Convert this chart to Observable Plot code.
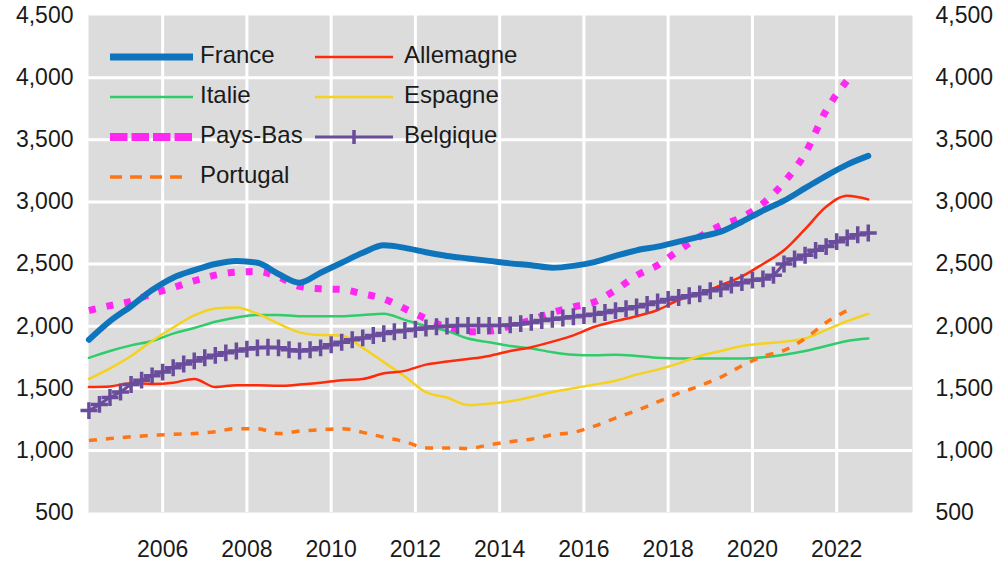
<!DOCTYPE html>
<html><head><meta charset="utf-8">
<script src="https://cdn.jsdelivr.net/npm/d3@7"></script>
<script src="https://cdn.jsdelivr.net/npm/@observablehq/plot@0.6"></script>
<style>
html,body{margin:0;padding:0;background:#fff;}
#wrap{position:relative;width:1000px;height:563px;}
</style></head><body><div id="wrap"></div>
<script>
// ---------- data ----------
const countries = ["France","Allemagne","Italie","Espagne","Pays-Bas","Belgique","Portugal"];
const yTicks = [500,1000,1500,2000,2500,3000,3500,4000,4500];
const xTicks = [2006,2008,2010,2012,2014,2016,2018,2020,2022];

const yearsH = [2004.25,2004.75,2005.25,2005.75,2006.25,2006.75,2007.25,2007.75,2008.25,2008.75,
  2009.25,2009.75,2010.25,2010.75,2011.25,2011.75,2012.25,2012.75,2013.25,2013.75,
  2014.25,2014.75,2015.25,2015.75,2016.25,2016.75,2017.25,2017.75,2018.25,2018.75,
  2019.25,2019.75,2020.25,2020.75,2021.25,2021.75,2022.25,2022.75];

const france = [1890,2040,2160,2290,2390,2450,2500,2525,2510,2420,2350,2430,2510,2590,2650,2630,2595,2565,2545,2525,
  2505,2490,2470,2485,2515,2565,2610,2640,2680,2720,2760,2840,2930,3010,3110,3210,3300,3370];
const allemagne = [1510,1515,1540,1535,1545,1575,1510,1525,1525,1520,1530,1545,1565,1575,1620,1640,1690,1715,1735,1760,
  1800,1830,1875,1925,1995,2040,2080,2130,2210,2260,2330,2400,2500,2610,2780,2960,3050,3020];
const italie = [1745,1800,1845,1880,1940,1985,2035,2070,2090,2090,2080,2080,2080,2090,2100,2050,2000,1960,1900,1870,
  1840,1820,1790,1770,1765,1770,1760,1745,1740,1740,1740,1740,1750,1770,1800,1840,1880,1900];
const espagne = [1575,1660,1760,1880,1989,2086,2142,2150,2100,2020,1950,1928,1925,1825,1710,1595,1468,1425,1365,1375,
  1395,1430,1470,1500,1530,1560,1610,1650,1700,1760,1800,1840,1860,1875,1900,1970,2040,2100];
const paysBas = [2126,2165,2200,2260,2310,2365,2410,2435,2440,2395,2320,2300,2295,2260,2220,2140,2060,1990,1955,1960,
  2000,2050,2110,2155,2195,2290,2407,2490,2610,2720,2810,2875,2987,3157,3389,3736,3977,null];
const portugal = [1080,1095,1110,1120,1130,1135,1150,1175,1175,1135,1155,1165,1175,1145,1105,1070,1020,1020,1015,1045,
  1070,1090,1125,1145,1195,1260,1320,1390,1460,1520,1590,1680,1756,1804,1900,2029,2126,null];

const yearsQ = [2004.25,2004.5,2004.75,2005,2005.25,2005.5,2005.75,2006,2006.25,2006.5,2006.75,2007,2007.25,2007.5,2007.75,
  2008,2008.25,2008.5,2008.75,2009,2009.25,2009.5,2009.75,2010,2010.25,2010.5,2010.75,2011,2011.25,2011.5,2011.75,
  2012,2012.25,2012.5,2012.75,2013,2013.25,2013.5,2013.75,2014,2014.25,2014.5,2014.75,2015,2015.25,2015.5,2015.75,
  2016,2016.25,2016.5,2016.75,2017,2017.25,2017.5,2017.75,2018,2018.25,2018.5,2018.75,2019,2019.25,2019.5,2019.75,
  2020,2020.25,2020.5,2020.75,2021,2021.25,2021.5,2021.75,2022,2022.25,2022.5,2022.75];
const belgique = [1320,1370,1425,1470,1530,1565,1600,1630,1665,1695,1720,1745,1765,1785,1800,1815,1825,1830,1825,1810,
  1800,1810,1825,1850,1870,1890,1905,1925,1940,1955,1965,1975,1985,1995,2000,2005,2005,2005,2005,2005,
  2010,2020,2030,2045,2055,2065,2075,2085,2095,2110,2125,2140,2155,2175,2195,2215,2230,2245,2260,2285,
  2300,2330,2350,2370,2380,2410,2500,2540,2570,2610,2640,2680,2710,2735,2750];

// ---------- styles ----------
const st = {
  "France":    {stroke:"#0E74BC", strokeWidth:6},
  "Allemagne": {stroke:"#FF2A0A", strokeWidth:2.5},
  "Italie":    {stroke:"#2ECC6A", strokeWidth:2.5},
  "Espagne":   {stroke:"#F5D21E", strokeWidth:2.5},
  "Pays-Bas":  {stroke:"#FF28F2", strokeWidth:7, strokeDasharray:"7,11", strokeLinecap:"butt"},
  "Belgique":  {stroke:"#6A4C9C", strokeWidth:3},
  "Portugal":  {stroke:"#FF7414", strokeWidth:3.5, strokeDasharray:"8,9", strokeLinecap:"butt"}
};
const drawOrder = ["Pays-Bas","Italie","Espagne","Allemagne","Portugal","Belgique","France"];
const seriesH = {"France":france,"Allemagne":allemagne,"Italie":italie,"Espagne":espagne,"Pays-Bas":paysBas,"Portugal":portugal};
const FONT = "'Liberation Sans', Arial, sans-serif";
const TXT = "#1a1a1a";

const marks = [
  Plot.frame({fill:"#DCDCDC", stroke:"none"}),
  Plot.ruleY(yTicks.filter(v => v > 500 && v < 4500), {stroke:"white", strokeWidth:3}),
  Plot.ruleX(xTicks, {stroke:"white", strokeWidth:3}),
  Plot.axisY({anchor:"left", ticks:yTicks, tickFormat:d3.format(","), tickSize:0, tickPadding:15, label:null}),
  Plot.axisY({anchor:"right", ticks:yTicks, tickFormat:d3.format(","), tickSize:0, tickPadding:23, label:null}),
  Plot.axisX({ticks:xTicks, tickFormat:d => String(d), tickSize:0, tickPadding:28, label:null})
];
for (const c of drawOrder) {
  if (c === "Belgique") {
    marks.push(Plot.line(belgique, {x:(d,i)=>yearsQ[i], y:d=>d, curve:"monotone-x", ...st[c]}));
    marks.push(Plot.dot(belgique, {x:(d,i)=>yearsQ[i], y:d=>d, symbol:"plus", r:5.5, stroke:st[c].stroke, strokeWidth:3.5}));
  } else {
    marks.push(Plot.line(seriesH[c], {x:(d,i)=>yearsH[i], y:d=>d, curve:"monotone-x", ...st[c]}));
  }
}

const chart = Plot.plot({
  width:1000, height:563,
  marginLeft:88, marginRight:88, marginTop:15, marginBottom:51,
  x:{domain:[2004.24, 2023.8]},
  y:{domain:[500, 4500]},
  style:{fontFamily:FONT, fontSize:"23px", color:TXT, background:"white"},
  marks
});
document.getElementById("wrap").appendChild(chart);

// ---------- legend (overlay) ----------
const leg = d3.select("#wrap").append("svg")
  .attr("width",1000).attr("height",563)
  .style("position","absolute").style("left","0px").style("top","0px")
  .style("pointer-events","none");
countries.forEach((c,i) => {
  const col = i % 2, row = Math.floor(i / 2);
  const x0 = col ? 315 : 110, x1 = col ? 393 : (c === "Portugal" ? 184 : 193);
  const tx = col ? 404 : 200;
  const ly = 57 + row * 40;
  const s = st[c];
  let dash = null, w = s.strokeWidth;
  if (c === "Pays-Bas") { dash = "17.5,4"; w = 8; }
  if (c === "Portugal") { dash = "12,8"; w = 3.5; }
  if (c === "France") w = 7;
  leg.append("line").attr("x1",x0).attr("x2",x1).attr("y1",ly).attr("y2",ly)
    .attr("stroke",s.stroke).attr("stroke-width",w).attr("stroke-dasharray",dash);
  if (c === "Belgique") {
    const mx = (x0 + x1) / 2;
    leg.append("line").attr("x1",mx).attr("x2",mx).attr("y1",ly-7).attr("y2",ly+7)
      .attr("stroke",s.stroke).attr("stroke-width",3.5);
  }
  leg.append("text").attr("x",tx).attr("y",ly+6).text(c)
    .attr("font-family",FONT).attr("font-size","24px").attr("fill",TXT);
});
</script></body></html>
